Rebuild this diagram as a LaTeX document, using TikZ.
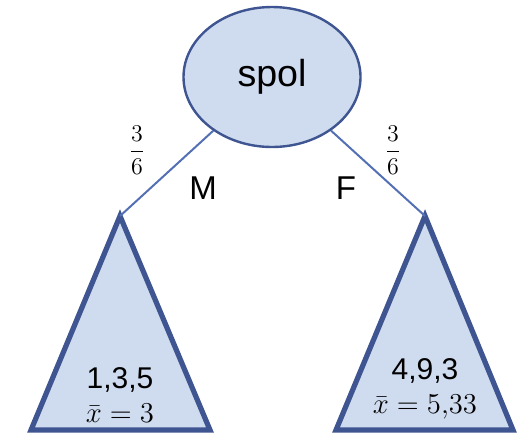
\documentclass[tikz,border=0pt]{standalone}
\usepackage{amsmath}
\usepackage{fontspec}
\setmainfont{Liberation Sans}
\usetikzlibrary{shapes.geometric,positioning}
\definecolor{node_fill}{RGB}{207,219,238}
\definecolor{node_edge}{RGB}{63,85,146}
\definecolor{edge_blue}{RGB}{84,112,180}

\tikzset{
  splitnode/.style={ellipse, draw=node_edge, line width=1.2pt, fill=node_fill,
    minimum width=88.5pt, minimum height=70pt, inner sep=0pt},
  subtree/.style={draw=node_edge, line width=2.6pt, fill=node_fill, line join=miter},
  branch/.style={edge_blue, line width=1pt},
  leaftext/.style={font=\fontsize{15}{17}\selectfont, align=center, inner sep=0pt},
}

\begin{document}
\begin{tikzpicture}[x=0.5pt, y=-0.5pt]
        \useasboundingbox (0,0) rectangle (528,435);
        % root
        \node[splitnode, font=\fontsize{18.8}{20}\selectfont] (spol) at (272,77) {spol};
        % leaves
        \coordinate (lapex) at (120,216);
        \coordinate (rapex) at (425,216);
        \draw[subtree] (lapex) -- (210,430) -- (31,430) -- cycle;
        \draw[subtree] (rapex) -- (513,430) -- (336,430) -- cycle;
        \draw[branch] (spol) -- (lapex);
        \draw[branch] (spol) -- (rapex);
        % branch labels
        \node[font=\fontsize{13}{14}\selectfont] (pl) at (137,150) {$\displaystyle\frac{3}{6}$};
        \node[font=\fontsize{13}{14}\selectfont] (pr) at (393,150) {$\displaystyle\frac{3}{6}$};
        \node[font=\fontsize{16.5}{18}\selectfont] (m) at (203,188) {M};
        \node[font=\fontsize{16.5}{18}\selectfont] (f) at (346,188) {F};
        % leaf contents
        \node[leaftext] (lleaf) at (120,395) {1,3,5\\$\bar{x}=3$};
        \node[leaftext] (rleaf) at (425,389) {4,9,3\\$\bar{x}=5{,}33$};
      \end{tikzpicture}
\end{document}
